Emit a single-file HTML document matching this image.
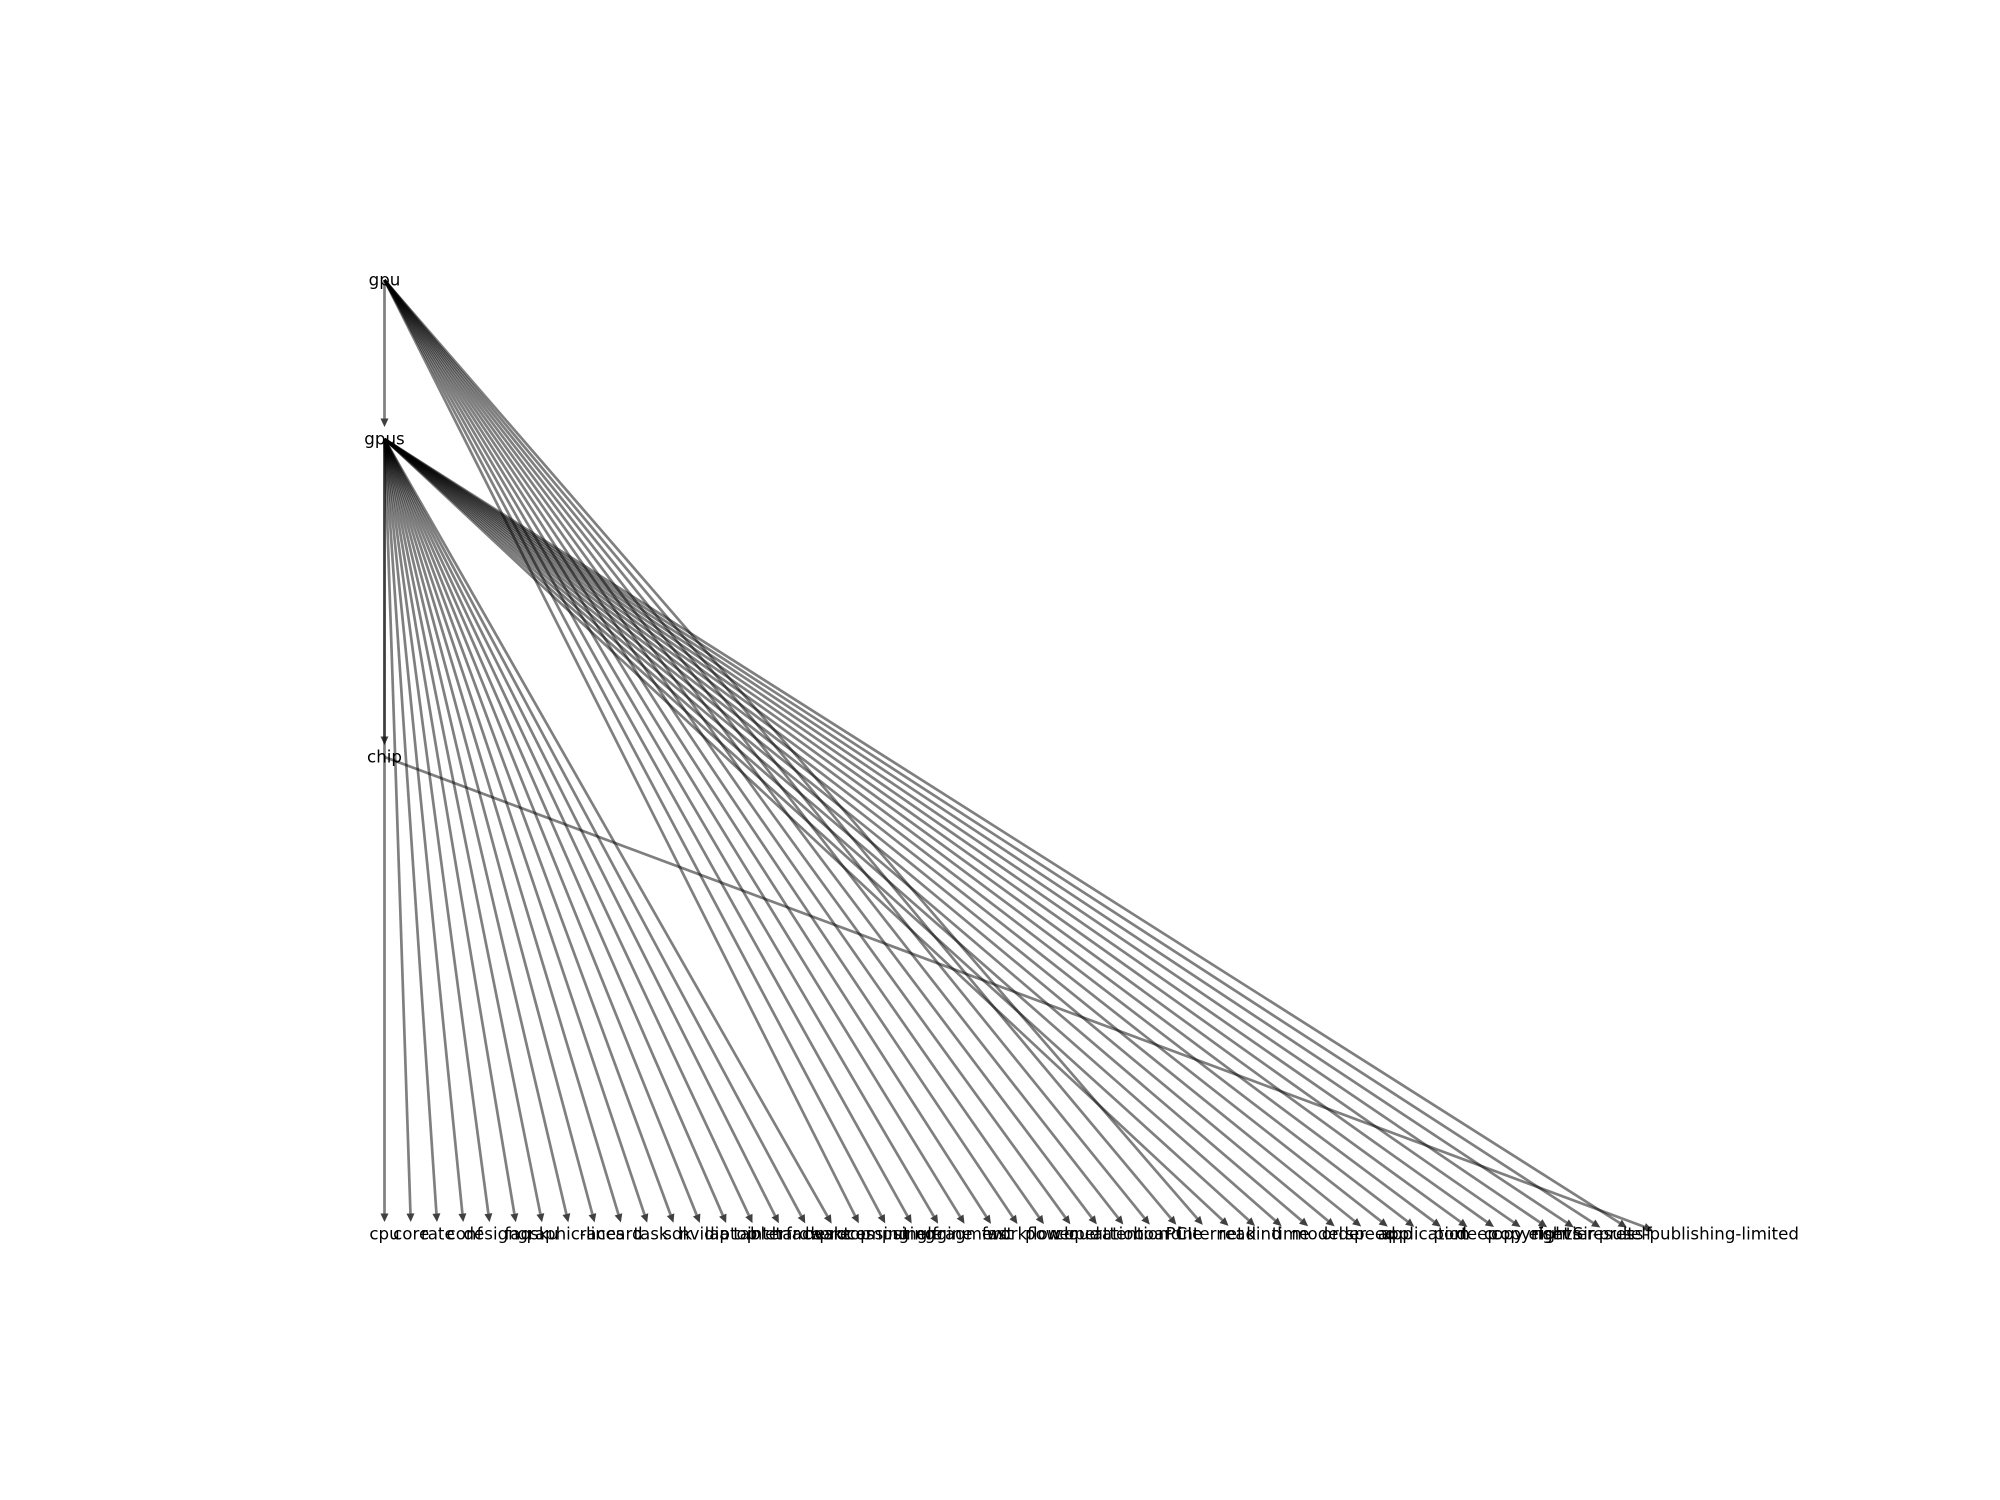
<!DOCTYPE html>
<html lang="en">
<head>
<meta charset="utf-8">
<title>GPU term graph</title>
<style>
html,body{margin:0;padding:0;background:#fff;}
svg{display:block;}
text{font-family:"DejaVu Sans",sans-serif;font-size:16.67px;fill:#000;text-anchor:middle;}
</style>
</head>
<body>
<svg id="chart" xmlns="http://www.w3.org/2000/svg" width="2000" height="1500" viewBox="0 0 2000 1500">
<rect x="0" y="0" width="2000" height="1500" fill="#ffffff"/>
<g id="edges"></g>
<g id="labels"></g>
</svg>
<script>
const hubLabels = ['gpu', 'gpus', 'chip'];
const hubLevels = [0, 1, 3];
const leafLevel = 6;
const leafLabels = ['cpu','core','rate','conf','design','faq','sku','graphic-lines','race','card','task','sdk','nvidia','laptop','tablet','interface','hardware','desktop','processing','computing','single','engine','fragment','fast','workflow','power','cloud','operation','attention','board','PCIe','internet','read','kind','time','model','order','speed','app','application','port','deep','copy','copyright','rights','Sir','result','self','elsevier-press-publishing-limited'];
const leafParents = [1,1,1,1,1,1,1,1,1,1,1,1,1,1,1,1,1,1,0,0,0,0,0,0,0,0,0,0,0,0,0,0,1,1,1,1,1,1,1,1,1,1,1,1,1,1,1,1,2];
const hubEdgeSources = [0, 1];
const hubEdgeTargets = [1, 2];

const NS = 'http://www.w3.org/2000/svg';
const xScale = slot => 384.5 + slot * 26.65;
const yScale = level => 280 + level * 159;
const edgeLayer = document.getElementById('edges');
const labelLayer = document.getElementById('labels');
const SHRINK = 12, HEAD_LEN = 8.5, HEAD_HALF = 4;

function drawEdge(x1, y1, x2, y2, name) {
  const dx = x2 - x1, dy = y2 - y1, len = Math.hypot(dx, dy);
  const ux = dx / len, uy = dy / len;
  const tipX = x2 - ux * SHRINK, tipY = y2 - uy * SHRINK;
  const baseX = tipX - ux * HEAD_LEN, baseY = tipY - uy * HEAD_LEN;
  const line = document.createElementNS(NS, 'line');
  
  
  line.setAttribute('x1', x1);
  line.setAttribute('y1', y1);
  line.setAttribute('x2', baseX);
  line.setAttribute('y2', baseY);
  line.setAttribute('stroke', '#000');
  line.setAttribute('stroke-opacity', '0.5');
  line.setAttribute('stroke-width', '2.7');
  edgeLayer.appendChild(line);
  const head = document.createElementNS(NS, 'polygon');
  
  
  const px = -uy * HEAD_HALF, py = ux * HEAD_HALF;
  head.setAttribute('points', [tipX + ',' + tipY, (baseX + px) + ',' + (baseY + py), (baseX - px) + ',' + (baseY - py)].join(' '));
  head.setAttribute('fill', '#000');
  head.setAttribute('fill-opacity', '0.75');
  edgeLayer.appendChild(head);
}

function drawLabel(x, y, str, name) {
  const t = document.createElementNS(NS, 'text');
  
  
  t.setAttribute('x', x);
  t.setAttribute('y', y + 5.5);
  t.textContent = str;
  labelLayer.appendChild(t);
}

hubEdgeSources.forEach((s, i) => {
  const t = hubEdgeTargets[i];
  drawEdge(xScale(0), yScale(hubLevels[s]), xScale(0), yScale(hubLevels[t]), hubLabels[s] + '-' + hubLabels[t]);
});
leafLabels.forEach((lab, i) => {
  const p = leafParents[i];
  drawEdge(xScale(0), yScale(hubLevels[p]), xScale(i), yScale(leafLevel), hubLabels[p] + '-' + i);
});
hubLabels.forEach((lab, i) => drawLabel(xScale(0), yScale(hubLevels[i]), lab, lab));
leafLabels.forEach((lab, i) => drawLabel(xScale(i), yScale(leafLevel), lab, 'leaf-' + i));
</script>
</body>
</html>
